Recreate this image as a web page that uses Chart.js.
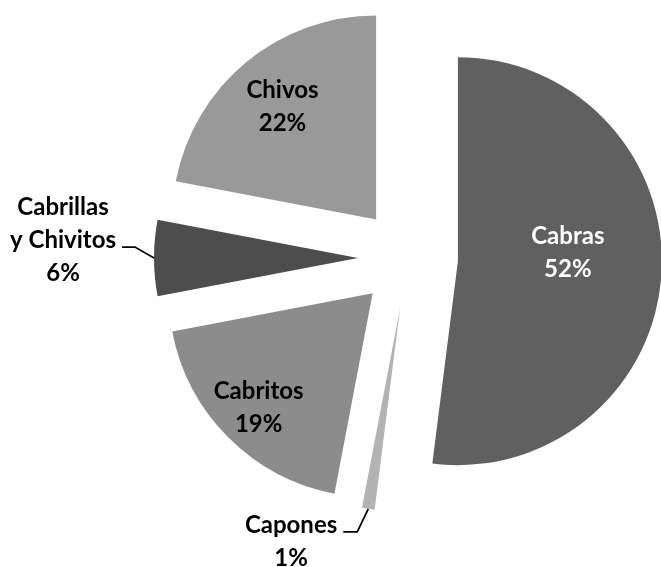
<!DOCTYPE html>
<html>
<head>
<meta charset="utf-8">
<script src="https://cdn.jsdelivr.net/npm/chart.js@4.4.0/dist/chart.umd.min.js"></script>
<style>
  body { margin: 0; background: #fff; }
</style>
</head>
<body>
<canvas id="pie" width="661" height="567"></canvas>
<script>
// data
const categories = ['Cabras', 'Capones', 'Cabritos', 'Cabrillas y Chivitos', 'Chivos'];
const values = [52, 1, 19, 6, 22];
const sliceColors = ['#606060', '#b3b3b3', '#8c8c8c', '#4d4d4d', '#999999'];

// label text and where it goes: inside at a fraction of the radius, or outside with a leader
const labelLines = [['Cabras', '52%'], ['Capones', '1%'], ['Cabritos', '19%'], ['Cabrillas', 'y Chivitos', '6%'], ['Chivos', '22%']];
const labelColors = ['#ffffff', '#000000', '#000000', '#000000', '#000000'];
const labelPlace = [
  { inside: true, r: 0.54, nudge: [0, -15] },
  { inside: false, elbow: [-11, 23], run: 14, line: 0 },
  { inside: true, r: 0.79, nudge: [0, 0] },
  { inside: false, elbow: [-19, -11], run: 13, line: 1 },
  { inside: true, r: 0.72, nudge: [0, 0] }
];

const EXPLODE = 50;      // every slice is pulled out the same distance
const FONT = 'bold 24px Lato';
const LINE_H = 33;

// chart.js offset also grows the radius, so pull the slices out by translating instead
const baseArcDraw = Chart.ArcElement.prototype.draw;
Chart.ArcElement.prototype.draw = function (ctx) {
  const mid = (this.startAngle + this.endAngle) / 2;
  ctx.save();
  ctx.translate(Math.cos(mid) * EXPLODE, Math.sin(mid) * EXPLODE);
  baseArcDraw.call(this, ctx);
  ctx.restore();
};

// slice labels and leader lines
const sliceLabels = {
  id: 'sliceLabels',
  afterDatasetsDraw(chart) {
    const ctx = chart.ctx;
    const meta = chart.getDatasetMeta(0);
    ctx.save();
    ctx.font = FONT;
    ctx.textAlign = 'center';
    ctx.textBaseline = 'middle';
    meta.data.forEach((arc, i) => {
      const p = arc.getProps(['x', 'y', 'startAngle', 'endAngle', 'outerRadius'], true);
      const mid = (p.startAngle + p.endAngle) / 2;
      const cx = Math.cos(mid), cy = Math.sin(mid);
      const lines = labelLines[i];
      const place = labelPlace[i];
      ctx.fillStyle = labelColors[i];
      if (place.inside) {
        const d = EXPLODE + p.outerRadius * place.r;
        const x = p.x + cx * d + place.nudge[0];
        const y = p.y + cy * d + place.nudge[1];
        const top = y - (lines.length - 1) * LINE_H / 2;
        lines.forEach((t, k) => ctx.fillText(t, x, top + k * LINE_H));
      } else {
        const d = EXPLODE + p.outerRadius;
        const ax = p.x + cx * d, ay = p.y + cy * d;
        const ex = ax + place.elbow[0], ey = ay + place.elbow[1];
        const hx = ex - place.run;
        ctx.strokeStyle = '#000';
        ctx.lineWidth = 1.75;
        ctx.beginPath();
        ctx.moveTo(ax, ay);
        ctx.lineTo(ex, ey);
        ctx.lineTo(hx, ey);
        ctx.stroke();
        const w = Math.max(...lines.map(t => ctx.measureText(t).width));
        const x = hx - 6 - w / 2;
        const top = ey - 7 - place.line * LINE_H;
        lines.forEach((t, k) => ctx.fillText(t, x, top + k * LINE_H));
      }
    });
    ctx.restore();
  }
};

new Chart(document.getElementById('pie'), {
  type: 'pie',
  data: {
    labels: categories,
    datasets: [{
      data: values,
      backgroundColor: sliceColors,
      borderWidth: 0,
      radius: 204,
      offset: 0
    }]
  },
  options: {
    responsive: false,
    animation: false,
    layout: { padding: { left: 155, right: 0, top: 0, bottom: 51 } },
    plugins: {
      legend: { display: false },
      tooltip: { enabled: false }
    }
  },
  plugins: [sliceLabels]
});
</script>
</body>
</html>
